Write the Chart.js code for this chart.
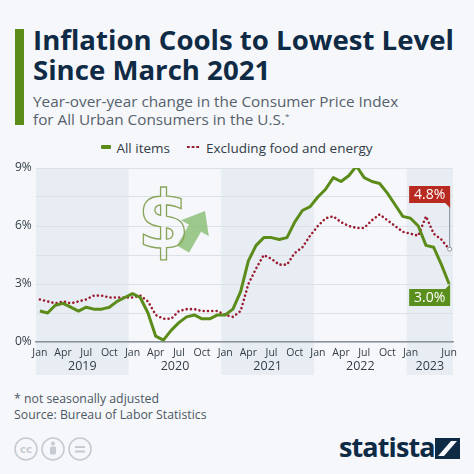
<!DOCTYPE html>
<html>
<head>
<meta charset="utf-8">
<script src="https://cdn.jsdelivr.net/npm/chart.js@4.4.0/dist/chart.umd.min.js"></script>
<style>
  html, body { margin: 0; padding: 0; }
  body { width: 474px; height: 474px; background: #f5f7fa; position: relative; overflow: hidden; font-family: 'Open Sans', sans-serif; }
  .bar { position: absolute; left: 15px; top: 29px; width: 9px; height: 96px; background: #5b8c1a; }
  .title { position: absolute; left: 33px; top: 24px; font-size: 27.6px; line-height: 30px; font-weight: 700; color: #0f2a45; white-space: nowrap; }
  .sub { position: absolute; left: 33px; top: 92px; font-size: 15.3px; line-height: 18px; color: #56616c; white-space: nowrap; }
  .sub sup { font-size: 8px; vertical-align: 6px; line-height: 0; }
  .legend { position: absolute; left: 0; width: 474px; top: 139px; text-align: center; font-size: 13.5px; line-height: 18px; color: #333d47; white-space: nowrap; }
  .legend .sw1 { display: inline-block; width: 10px; height: 4px; background: #5b8c1a; vertical-align: 4px; margin-right: 5px; border-radius: 1px; }
  .legend .sw2 { display: inline-block; width: 14px; height: 4px; vertical-align: 4px; margin: 0 6px 0 16px;
    background-image: radial-gradient(circle, #9b1c31 1.2px, transparent 1.4px); background-size: 4.7px 4px; }
  #wrap { position: absolute; left: 0; top: 155px; width: 474px; height: 225px; }
  #icon { position: absolute; left: 130px; top: 180px; }
  .foot { position: absolute; left: 14px; font-size: 12.3px; line-height: 16px; color: #4e5864; white-space: nowrap; }
  .cc { position: absolute; left: 14px; top: 436px; }
  .logo { position: absolute; left: 339px; top: 430px; font-size: 27px; line-height: 34px; font-weight: 700; color: #0f2a45; letter-spacing: -0.9px; }
  .logomark { position: absolute; left: 435px; top: 438px; }
</style>
</head>
<body>
<div class="bar"></div>
<div class="title">Inflation Cools to Lowest Level<br>Since March 2021</div>
<div class="sub">Year-over-year change in the Consumer Price Index<br>for All Urban Consumers in the U.S.<sup>*</sup></div>
<div class="legend"><span class="sw1"></span>All items<span class="sw2"></span>Excluding food and energy</div>
<div id="wrap"><canvas id="c" width="474" height="225"></canvas></div>
<canvas id="icon" width="100" height="90"></canvas>
<div class="foot" style="top:391px">* not seasonally adjusted</div>
<div class="foot" style="top:407px">Source: Bureau of Labor Statistics</div>
<svg class="cc" width="84" height="26" viewBox="0 0 84 26">
  <g fill="none" stroke="#c6cbd1" stroke-width="1.6">
    <circle cx="12" cy="13" r="11"/><circle cx="39" cy="13" r="11"/><circle cx="66" cy="13" r="11"/>
  </g>
  <text x="12" y="17" font-size="10" font-weight="700" fill="#c6cbd1" text-anchor="middle" font-family="DejaVu Sans">cc</text>
  <circle cx="39" cy="7.5" r="2" fill="#c6cbd1"/>
  <rect x="36" y="10.5" width="6" height="8" rx="1.5" fill="#c6cbd1"/>
  <rect x="61" y="10" width="10" height="2" fill="#c6cbd1"/><rect x="61" y="14.5" width="10" height="2" fill="#c6cbd1"/>
</svg>
<div class="logo">statista</div>
<svg class="logomark" width="25" height="21" viewBox="0 0 25 21">
  <rect x="0" y="0" width="25" height="21" fill="#0f2a45"/>
  <path d="M3 18 L16 3 L22 3 L9 18 Z" fill="#f5f7fa"/>
</svg>
<script>
// month-by-month year-over-year CPI change, Jan 2019 - Jun 2023
const years = ['2019', '2020', '2021', '2022', '2023'];
const monthNames = ['Jan', 'Feb', 'Mar', 'Apr', 'May', 'Jun', 'Jul', 'Aug', 'Sep', 'Oct', 'Nov', 'Dec'];
const shownMonths = ['Jan', 'Apr', 'Jul', 'Oct'];

const allItems = [
    1.6, 1.5, 1.9, 2.0, 1.8, 1.6, 1.8, 1.7, 1.7, 1.8, 2.1, 2.3,
    2.5, 2.3, 1.5, 0.3, 0.1, 0.6, 1.0, 1.3, 1.4, 1.2, 1.2, 1.4,
    1.4, 1.7, 2.6, 4.2, 5.0, 5.4, 5.4, 5.3, 5.4, 6.2, 6.8, 7.0,
    7.5, 7.9, 8.5, 8.3, 8.6, 9.1, 8.5, 8.3, 8.2, 7.7, 7.1, 6.5,
    6.4, 6.0, 5.0, 4.9, 4.0, 3.0,
];
const coreItems = [
    2.2, 2.1, 2.0, 2.1, 2.0, 2.1, 2.2, 2.4, 2.4, 2.3, 2.3, 2.3,
    2.3, 2.4, 2.1, 1.4, 1.2, 1.2, 1.6, 1.7, 1.7, 1.6, 1.6, 1.6,
    1.4, 1.3, 1.6, 3.0, 3.8, 4.5, 4.3, 4.0, 4.0, 4.6, 4.9, 5.5,
    6.0, 6.4, 6.5, 6.2, 6.0, 5.9, 5.9, 6.3, 6.6, 6.3, 6.0, 5.7,
    5.6, 5.5, 6.5, 5.6, 5.3, 4.8,
];

const labels = [];
for (let i = 0; i < allItems.length; i++) labels.push(monthNames[i % 12]);
const lastYearStart = (years.length - 1) * 12;

const green = '#5b8c1a';
const red = '#9b1c31';
const textCol = '#333d47';

const monthCenter = (scale, i) => scale.getPixelForValue(i);

const bandsPlugin = {
    id: 'bands',
    beforeDraw: (chart) => {
        const { ctx, chartArea, scales } = chart;
        const x = scales.x;
        const half = (monthCenter(x, 1) - monthCenter(x, 0)) / 2;
        ctx.save();
        ctx.fillStyle = '#e8edf3';
        years.forEach((y, k) => {
            if (k % 2 !== 0) return;
            const first = k * 12;
            const last = Math.min(k * 12 + 11, labels.length - 1);
            const x0 = monthCenter(x, first) - half;
            const x1 = monthCenter(x, last) + half;
            ctx.fillRect(x0, chartArea.top, x1 - x0, 220 - chartArea.top);
        });
        ctx.restore();
    },
};

const yearPlugin = {
    id: 'years',
    afterDraw: (chart) => {
        const { ctx, scales } = chart;
        ctx.save();
        ctx.font = '12.5px "Open Sans"';
        ctx.fillStyle = textCol;
        ctx.textAlign = 'center';
        ctx.textBaseline = 'middle';
        years.forEach((y, k) => {
            const first = k * 12;
            const last = Math.min(k * 12 + 11, labels.length - 1);
            const cx = (monthCenter(scales.x, first) + monthCenter(scales.x, last)) / 2;
            ctx.fillText(y, cx, 211);
        });
        ctx.restore();
    },
};

const drawTag = (ctx, text, color, x1, y0, flagDown) => {
    const w = 41, h = 17, n = 5;
    const x0 = x1 - w, y1 = y0 + h;
    ctx.fillStyle = color;
    ctx.beginPath();
    if (flagDown) {
        ctx.moveTo(x0, y0); ctx.lineTo(x1, y0); ctx.lineTo(x1, y1 + n); ctx.lineTo(x1 - n, y1); ctx.lineTo(x0, y1);
    } else {
        ctx.moveTo(x0, y0); ctx.lineTo(x1 - n, y0); ctx.lineTo(x1, y0 - n); ctx.lineTo(x1, y1); ctx.lineTo(x0, y1);
    }
    ctx.closePath();
    ctx.fill();
    ctx.fillStyle = '#ffffff';
    ctx.font = '14px "Open Sans"';
    ctx.textAlign = 'center';
    ctx.textBaseline = 'middle';
    ctx.fillText(text, (x0 + x1) / 2, (y0 + y1) / 2 + 0.5);
};

const tagPlugin = {
    id: 'tags',
    afterDatasetsDraw: (chart) => {
        const ctx = chart.ctx;
        const last = labels.length - 1;
        const pAll = chart.getDatasetMeta(0).data[last];
        const pCore = chart.getDatasetMeta(1).data[last];
        ctx.save();
        ctx.strokeStyle = '#8a9099';
        ctx.lineWidth = 1;
        ctx.beginPath();
        ctx.moveTo(pCore.x + 0.5, 47);
        ctx.lineTo(pCore.x + 0.5, pCore.y);
        ctx.stroke();
        ctx.fillStyle = '#ffffff';
        ctx.beginPath();
        ctx.arc(pCore.x + 0.5, pCore.y, 2, 0, Math.PI * 2);
        ctx.fill();
        ctx.stroke();
        drawTag(ctx, coreItems[last].toFixed(1) + '%', '#b8291f', pCore.x + 1, 31, true);
        drawTag(ctx, allItems[last].toFixed(1) + '%', '#5a8f1d', pAll.x + 1, pAll.y + 5, false);
        ctx.restore();
    },
};

new Chart(document.getElementById('c').getContext('2d'), {
    type: 'line',
    data: {
        labels: labels,
        datasets: [
            {
                label: 'All items',
                data: allItems,
                borderColor: green,
                borderWidth: 3,
                borderJoinStyle: 'round',
                pointRadius: 0,
                tension: 0,
                order: 1,
            },
            {
                label: 'Excluding food and energy',
                data: coreItems,
                borderColor: red,
                borderWidth: 2.6,
                borderDash: [0.01, 4.3],
                borderCapStyle: 'round',
                pointRadius: 0,
                tension: 0,
                order: 2,
            },
        ],
    },
    options: {
        responsive: false,
        animation: false,
        layout: { padding: { left: 15, right: 21, top: 13, bottom: 0 } },
        scales: {
            x: {
                type: 'category',
                offset: true,
                grid: { display: false, drawTicks: false },
                border: { display: true, color: '#8c939b', width: 1.5 },
                afterFit: (s) => { s.height = 38; },
                ticks: {
                    autoSkip: false,
                    maxRotation: 0,
                    padding: 5,
                    color: textCol,
                    font: { family: 'Open Sans', size: 10.5 },
                    callback: function (value, index) {
                        const m = labels[index];
                        if (index === labels.length - 1) return m;
                        if (index >= lastYearStart) return m === 'Jan' ? m : '';
                        return shownMonths.includes(m) ? m : '';
                    },
                },
            },
            y: {
                min: 0,
                max: 9,
                grid: { color: '#dce1e7', lineWidth: 1, drawTicks: false },
                border: { display: false },
                afterFit: (s) => { s.width = 21; },
                ticks: {
                    stepSize: 1.5,
                    crossAlign: 'far',
                    padding: 4,
                    color: textCol,
                    font: { family: 'Open Sans', size: 12 },
                    callback: (v) => (v % 3 === 0 ? v + '%' : ''),
                },
            },
        },
        plugins: {
            legend: { display: false },
            tooltip: { enabled: false },
        },
    },
    plugins: [bandsPlugin, yearPlugin, tagPlugin],
});

// decorative dollar sign with rising arrow; overlay canvas sits at page (130,180)
const ic = document.getElementById('icon').getContext('2d');
ic.save();
ic.translate(53, 69);
ic.rotate(Math.PI / 6);
ic.fillStyle = 'rgba(140, 192, 120, 0.85)';
ic.beginPath();
ic.moveTo(-7, 0);
ic.lineTo(7, 0);
ic.lineTo(7, -24);
ic.lineTo(16, -24);
ic.lineTo(0, -44);
ic.lineTo(-16, -24);
ic.lineTo(-7, -24);
ic.closePath();
ic.fill();
ic.restore();

ic.save();
ic.font = 'bold 80px "DejaVu Sans"';
const gm = ic.measureText('$');
const gw = gm.actualBoundingBoxLeft + gm.actualBoundingBoxRight;
const gh = gm.actualBoundingBoxAscent + gm.actualBoundingBoxDescent;
const sx = 42 / gw, sy = 73 / gh;
ic.translate(13, 7);
ic.scale(sx, sy);
ic.strokeStyle = '#8aa55a';
ic.lineWidth = 1.3 / Math.min(sx, sy);
ic.strokeText('$', gm.actualBoundingBoxLeft, gm.actualBoundingBoxAscent);
ic.restore();
</script>
</body>
</html>
